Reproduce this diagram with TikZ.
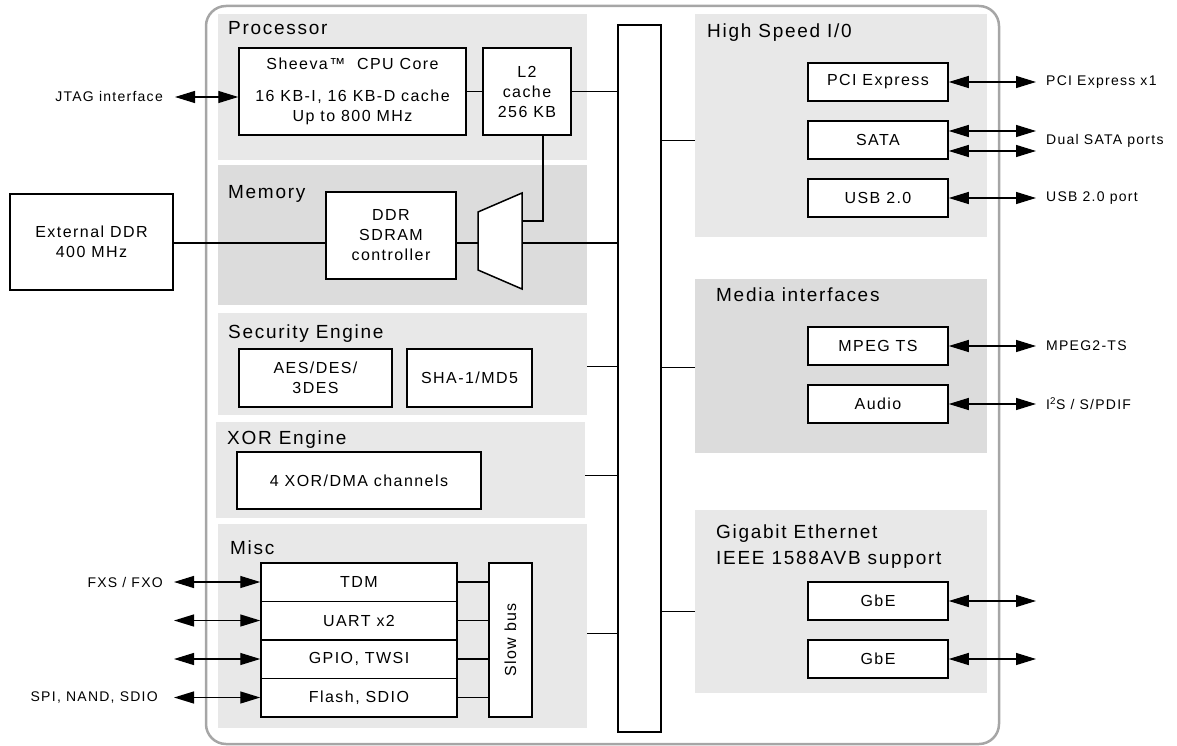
\documentclass[tikz,border=0pt]{standalone}
\usepackage{fontspec}
\setmainfont[LetterSpace=9]{Liberation Sans}
\usetikzlibrary{arrows.meta,positioning}

\definecolor{panelgray}{HTML}{E8E8E8}
\definecolor{paneldark}{HTML}{DCDCDC}
\definecolor{framegray}{HTML}{A6A6A6}

\tikzset{
  panel/.style={fill=panelgray, draw=none, inner sep=0pt, anchor=north west},
  blk/.style={draw, fill=white, line width=1.5pt, inner sep=0pt, align=center,
    font=\fontsize{16}{20}\selectfont},
  port/.style={minimum width=140pt, minimum height=38pt},
  sect/.style={anchor=base west, inner sep=0pt, align=left,
    font=\fontsize{19}{26}\selectfont},
  sidelbl/.style={inner sep=0pt, font=\fontsize{14}{16}\selectfont},
  link/.style={line width=1.3pt},
  io/.style={link, {Triangle[length=20pt,width=12pt]}-{Triangle[length=20pt,width=12pt]}},
}

\begin{document}
\begin{tikzpicture}[x=1pt,y=-1pt]
    \useasboundingbox (0,0) rectangle (1177,746);

    % Panels
    \node[panel, minimum width=369pt, minimum height=146pt] (proc) at (218,14) {};
    \node[panel, fill=paneldark, minimum width=369pt, minimum height=140pt] (mem) at (218,165) {};
    \node[panel, minimum width=369pt, minimum height=102pt] (sec) at (218,313) {};
    \node[panel, minimum width=369pt, minimum height=96pt] (xor) at (216,422) {};
    \node[panel, minimum width=369pt, minimum height=204pt] (misc) at (218,524) {};
    \node[panel, minimum width=292pt, minimum height=223pt] (hs) at (695,14) {};
    \node[panel, fill=paneldark, minimum width=292pt, minimum height=174pt] (media) at (695,279) {};
    \node[panel, minimum width=292pt, minimum height=183pt] (gbe) at (695,510) {};

    % Chip outline
    \draw[framegray, line width=2.5pt, rounded corners=20pt] (206,6) rectangle (999,744);

    % Section titles
    \node[sect] (proct) at (228,35) {Processor};
    \node[sect] (memt) at (228,199) {Memory};
    \node[sect] (sect) at (228,338) {Security Engine};
    \node[sect] (xort) at (227,444) {XOR Engine};
    \node[sect] (misct) at (230,554) {Misc};
    \node[sect] (hst) at (707,38) {High Speed I/0};
    \node[sect] (mediat) at (716,301) {Media interfaces};
    \node[sect] (gbet) at (716,564) {Gigabit Ethernet\\IEEE 1588AVB support};

    % Internal bus
    \node[blk, minimum width=43pt, minimum height=707pt] (bus) at (639.5,378.5) {};

    % Processor
    \node[blk, minimum width=227pt, minimum height=87pt] (cpu) at (352.5,91.5)
        {Sheeva™\ \ CPU Core\\[12pt]16 KB-I, 16 KB-D cache\\Up to 800 MHz};
    \node[blk, minimum width=88pt, minimum height=87pt] (l2) at (527,91.5) {L2\\cache\\256 KB};
    \draw[link] (cpu.east) -- (l2.west);
    \draw[link] (l2.east) -- (l2.east -| bus.west);
    \node[sidelbl, anchor=east] (jtag) at (163,96) {JTAG interface};
    \coordinate (jtagend) at (175,97);
    \draw[io] (jtagend) -- (jtagend -| cpu.west);

    % Memory
    \node[blk, minimum width=163pt, minimum height=96pt] (extddr) at (91.5,242) {External DDR\\400 MHz};
    \node[blk, minimum width=130pt, minimum height=87pt] (ddrc) at (391,235.5) {DDR\\SDRAM\\controller};
    \draw[draw, fill=white, line width=1.5pt] (478,212) -- (522,193) -- (522,289) -- (478,270) -- cycle;
    \coordinate (muxin) at (478,243);
    \coordinate (muxout) at (522,243);
    \coordinate (muxsel) at (522,221);
    \draw[link] (extddr.east |- muxin) -- (ddrc.west |- muxin);
    \draw[link] (ddrc.east |- muxin) -- (muxin);
    \draw[link] (muxout) -- (muxout -| bus.west);
    \draw[link] ([xshift=16pt]l2.south) |- (muxsel);

    % Security and XOR engines
    \node[blk, minimum width=153pt, minimum height=58pt] (aes) at (315.5,378) {AES/DES/\\3DES};
    \node[blk, minimum width=125pt, minimum height=58pt] (sha) at (469.5,378) {SHA-1/MD5};
    \node[blk, minimum width=244pt, minimum height=57pt] (xordma) at (359,480.5) {4 XOR/DMA channels};
    \draw[link] ([yshift=-2pt]sec.east) -- ([yshift=-2pt]sec.east -| bus.west);
    \draw[link] ([yshift=-5pt]xor.east) -- ([yshift=-5pt]xor.east -| bus.west);

    % Misc
    \node[blk, minimum width=43pt, minimum height=154pt] (slow) at (510.5,640) {};
    \node[rotate=90, inner sep=0pt, font=\fontsize{16}{20}\selectfont] (slowlbl) at (slow) {Slow bus};
    \foreach \t [count=\i] in {TDM, UART x2, {GPIO, TWSI}, {Flash, SDIO}} {
        \node[blk, minimum width=196pt, minimum height=38.5pt] (misc\i) at (359,543.5+38.5*\i) {\t};
        \coordinate (mend\i) at (174,543.5+38.5*\i);
        \draw[io] (mend\i) -- (misc\i.west);
        \draw[link] (misc\i.east) -- (misc\i.east -| slow.west);
    }
    \node[sidelbl, anchor=east] (fxs) at (163,582) {FXS / FXO};
    \node[sidelbl, anchor=east] (spi) at (158,697.5) {SPI, NAND, SDIO};
    \draw[link] ([yshift=-7pt]misc.east) -- ([yshift=-7pt]misc.east -| bus.west);

    % High speed, media and Ethernet ports
    \coordinate (rim) at (1036,0);
    \foreach \n/\y/\t in {pcie/82/PCI Express, usb/198/USB 2.0, mpeg/346/MPEG TS,
                          audio/404/Audio, gbe1/601/GbE, gbe2/659/GbE} {
        \node[blk, port] (\n) at (878,\y) {\t};
        \draw[io] (\n.east) -- (\n.east -| rim);
    }
    \node[blk, port] (sata) at (878,140) {SATA};
    \draw[io] ([yshift=9pt]sata.east) -- ([yshift=9pt]sata.east -| rim);
    \draw[io] ([yshift=-11pt]sata.east) -- ([yshift=-11pt]sata.east -| rim);

    \node[sidelbl, anchor=west] (pcielbl) at (1046,82) {PCI Express x1};
    \node[sidelbl, anchor=west] (satalbl) at (1046,141) {Dual SATA ports};
    \node[sidelbl, anchor=west] (usblbl) at (1046,198) {USB 2.0 port};
    \node[sidelbl, anchor=west] (mpeglbl) at (1046,346) {MPEG2-TS};
    \node[sidelbl, anchor=west] (audiolbl) at (1046,404) {I\textsuperscript{2}S / S/PDIF};

    % Panels to bus
    \draw[link] ([yshift=-14.5pt]hs.west) -- ([yshift=-14.5pt]hs.west -| bus.east);
    \draw[link] ([yshift=-1pt]media.west) -- ([yshift=-1pt]media.west -| bus.east);
    \draw[link] ([yshift=-9.5pt]gbe.west) -- ([yshift=-9.5pt]gbe.west -| bus.east);
\end{tikzpicture}
\end{document}
